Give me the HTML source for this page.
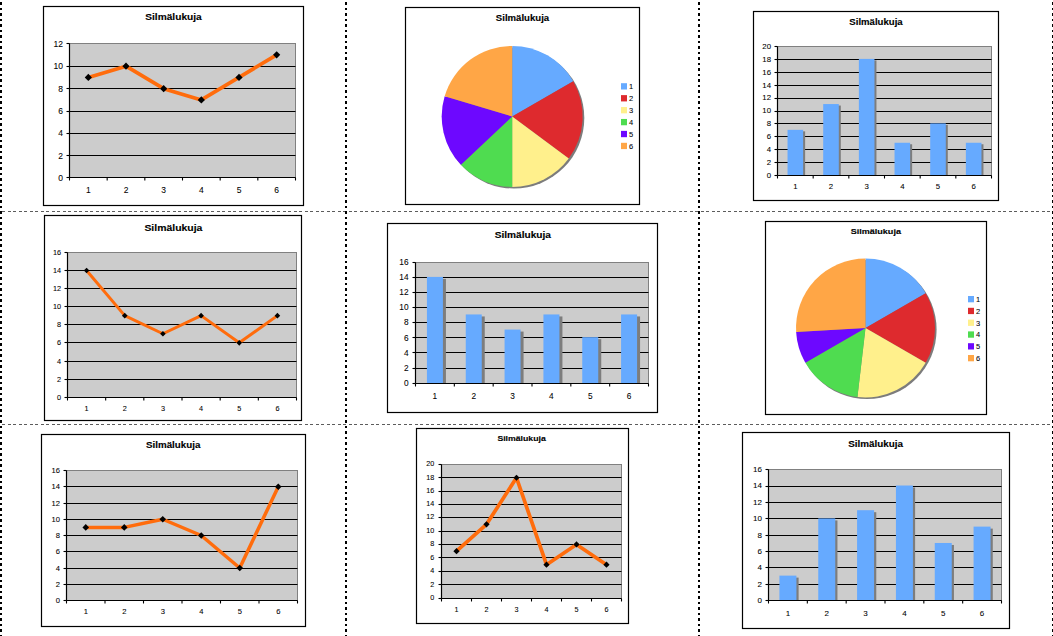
<!DOCTYPE html>
<html><head><meta charset="utf-8"><style>
html,body{margin:0;padding:0;background:#fff;width:1053px;height:636px;overflow:hidden}
svg{display:block;font-family:"Liberation Sans",sans-serif}
</style></head><body>
<svg width="1053" height="636" viewBox="0 0 1053 636">
<defs><filter id="blur" x="-10%" y="-10%" width="120%" height="120%"><feGaussianBlur stdDeviation="0.45"/></filter></defs>
<line x1="0" y1="211.5" x2="1053" y2="211.5" stroke="#5c5c5c" stroke-width="1" stroke-dasharray="3 3 3 2" stroke-dashoffset="9"/>
<line x1="0" y1="424.5" x2="1053" y2="424.5" stroke="#5c5c5c" stroke-width="1" stroke-dasharray="3 3 3 2" stroke-dashoffset="9"/>
<line x1="1" y1="0" x2="1" y2="636" stroke="#000" stroke-width="2" stroke-dasharray="3 3 2 3" stroke-dashoffset="9"/>
<line x1="346" y1="0" x2="346" y2="636" stroke="#000" stroke-width="2" stroke-dasharray="3 3 2 3" stroke-dashoffset="9"/>
<line x1="699" y1="0" x2="699" y2="636" stroke="#000" stroke-width="2" stroke-dasharray="3 3 2 3" stroke-dashoffset="9"/>
<line x1="1053" y1="0" x2="1053" y2="636" stroke="#000" stroke-width="2" stroke-dasharray="3 3 2 3" stroke-dashoffset="9"/>
<rect x="43.5" y="6.5" width="260" height="199" fill="#fff" stroke="#000" stroke-width="1.2"/>
<text stroke="#000" stroke-width="0.12" x="173.5" y="19.98" font-size="9" text-anchor="middle" font-weight="bold" textLength="56.5" lengthAdjust="spacingAndGlyphs" fill="#000">Silmälukuja</text>
<rect x="69.5" y="43.5" width="226.0" height="134.0" fill="#cccccc" stroke="#808080" stroke-width="1"/>
<line x1="69.5" y1="155.50" x2="295.5" y2="155.50" stroke="#000" stroke-width="1.15"/>
<line x1="69.5" y1="133.50" x2="295.5" y2="133.50" stroke="#000" stroke-width="1.15"/>
<line x1="69.5" y1="111.50" x2="295.5" y2="111.50" stroke="#000" stroke-width="1.15"/>
<line x1="69.5" y1="88.50" x2="295.5" y2="88.50" stroke="#000" stroke-width="1.15"/>
<line x1="69.5" y1="66.50" x2="295.5" y2="66.50" stroke="#000" stroke-width="1.15"/>
<line x1="69.5" y1="43.5" x2="69.5" y2="177.5" stroke="#000" stroke-width="1.2"/>
<line x1="69.5" y1="177.5" x2="295.5" y2="177.5" stroke="#000" stroke-width="1.2"/>
<line x1="66.5" y1="177.50" x2="69.5" y2="177.50" stroke="#000" stroke-width="1.1"/>
<text stroke="#000" stroke-width="0.07" x="63.0" y="180.56" font-size="8.5" text-anchor="end" fill="#000">0</text>
<line x1="66.5" y1="155.50" x2="69.5" y2="155.50" stroke="#000" stroke-width="1.1"/>
<text stroke="#000" stroke-width="0.07" x="63.0" y="158.56" font-size="8.5" text-anchor="end" fill="#000">2</text>
<line x1="66.5" y1="133.50" x2="69.5" y2="133.50" stroke="#000" stroke-width="1.1"/>
<text stroke="#000" stroke-width="0.07" x="63.0" y="136.43" font-size="8.5" text-anchor="end" fill="#000">4</text>
<line x1="66.5" y1="111.50" x2="69.5" y2="111.50" stroke="#000" stroke-width="1.1"/>
<text stroke="#000" stroke-width="0.07" x="63.0" y="114.16" font-size="8.5" text-anchor="end" fill="#000">6</text>
<line x1="66.5" y1="88.50" x2="69.5" y2="88.50" stroke="#000" stroke-width="1.1"/>
<text stroke="#000" stroke-width="0.07" x="63.0" y="91.76" font-size="8.5" text-anchor="end" fill="#000">8</text>
<line x1="66.5" y1="66.50" x2="69.5" y2="66.50" stroke="#000" stroke-width="1.1"/>
<text stroke="#000" stroke-width="0.07" x="63.0" y="69.23" font-size="8.5" text-anchor="end" fill="#000">10</text>
<line x1="66.5" y1="43.50" x2="69.5" y2="43.50" stroke="#000" stroke-width="1.1"/>
<text stroke="#000" stroke-width="0.07" x="63.0" y="46.56" font-size="8.5" text-anchor="end" fill="#000">12</text>
<line x1="69.50" y1="177.5" x2="69.50" y2="180.5" stroke="#000" stroke-width="1.1"/>
<line x1="107.17" y1="177.5" x2="107.17" y2="180.5" stroke="#000" stroke-width="1.1"/>
<line x1="144.83" y1="177.5" x2="144.83" y2="180.5" stroke="#000" stroke-width="1.1"/>
<line x1="182.50" y1="177.5" x2="182.50" y2="180.5" stroke="#000" stroke-width="1.1"/>
<line x1="220.17" y1="177.5" x2="220.17" y2="180.5" stroke="#000" stroke-width="1.1"/>
<line x1="257.83" y1="177.5" x2="257.83" y2="180.5" stroke="#000" stroke-width="1.1"/>
<line x1="295.50" y1="177.5" x2="295.50" y2="180.5" stroke="#000" stroke-width="1.1"/>
<text stroke="#000" stroke-width="0.07" x="88.33" y="192.86" font-size="8.5" text-anchor="middle" fill="#000">1</text>
<text stroke="#000" stroke-width="0.07" x="126.0" y="192.86" font-size="8.5" text-anchor="middle" fill="#000">2</text>
<text stroke="#000" stroke-width="0.07" x="163.67" y="192.86" font-size="8.5" text-anchor="middle" fill="#000">3</text>
<text stroke="#000" stroke-width="0.07" x="201.33" y="192.86" font-size="8.5" text-anchor="middle" fill="#000">4</text>
<text stroke="#000" stroke-width="0.07" x="239.0" y="192.86" font-size="8.5" text-anchor="middle" fill="#000">5</text>
<text stroke="#000" stroke-width="0.07" x="276.67" y="192.86" font-size="8.5" text-anchor="middle" fill="#000">6</text>
<polyline points="88.33,77.45 126.00,66.17 163.67,88.70 201.33,99.92 239.00,77.45 276.67,54.85" fill="none" stroke="#ff6c0c" stroke-width="3.7" stroke-linejoin="round"/>
<path d="M88.33 73.85L91.93 77.45L88.33 81.05L84.73 77.45Z" fill="#000"/>
<path d="M126.00 62.57L129.60 66.17L126.00 69.77L122.40 66.17Z" fill="#000"/>
<path d="M163.67 85.10L167.27 88.70L163.67 92.30L160.07 88.70Z" fill="#000"/>
<path d="M201.33 96.32L204.93 99.92L201.33 103.52L197.73 99.92Z" fill="#000"/>
<path d="M239.00 73.85L242.60 77.45L239.00 81.05L235.40 77.45Z" fill="#000"/>
<path d="M276.67 51.25L280.27 54.85L276.67 58.45L273.07 54.85Z" fill="#000"/>
<rect x="405.5" y="7.5" width="234" height="197" fill="#fff" stroke="#000" stroke-width="1.2"/>
<text stroke="#000" stroke-width="0.12" x="522.5" y="21.02" font-size="8.5" text-anchor="middle" font-weight="bold" textLength="53.3" lengthAdjust="spacingAndGlyphs" fill="#000">Silmälukuja</text>
<circle cx="513.8000000000001" cy="118.0" r="70.5" fill="#7c7c7c" filter="url(#blur)"/>
<path d="M512.2 116.4L512.20 45.90A70.5 70.5 0 0 1 573.25 81.15Z" fill="#66aaff"/>
<path d="M512.2 116.4L573.25 81.15A70.5 70.5 0 0 1 568.75 158.50Z" fill="#de2a2e"/>
<path d="M512.2 116.4L568.75 158.50A70.5 70.5 0 0 1 512.20 186.90Z" fill="#fff08c"/>
<path d="M512.2 116.4L512.20 186.90A70.5 70.5 0 0 1 460.92 164.78Z" fill="#4fdc50"/>
<path d="M512.2 116.4L460.92 164.78A70.5 70.5 0 0 1 444.66 96.18Z" fill="#6d08ff"/>
<path d="M512.2 116.4L444.66 96.18A70.5 70.5 0 0 1 512.20 45.90Z" fill="#ffa646"/>
<rect x="621" y="83.20" width="6" height="6.3" fill="#66aaff"/>
<text stroke="#000" stroke-width="0.07" x="629" y="89.1" font-size="7.5" text-anchor="start" fill="#000">1</text>
<rect x="621" y="95.12" width="6" height="6.3" fill="#de2a2e"/>
<text stroke="#000" stroke-width="0.07" x="629" y="101.02" font-size="7.5" text-anchor="start" fill="#000">2</text>
<rect x="621" y="107.04" width="6" height="6.3" fill="#fff08c"/>
<text stroke="#000" stroke-width="0.07" x="629" y="112.94" font-size="7.5" text-anchor="start" fill="#000">3</text>
<rect x="621" y="118.96" width="6" height="6.3" fill="#4fdc50"/>
<text stroke="#000" stroke-width="0.07" x="629" y="124.86" font-size="7.5" text-anchor="start" fill="#000">4</text>
<rect x="621" y="130.88" width="6" height="6.3" fill="#6d08ff"/>
<text stroke="#000" stroke-width="0.07" x="629" y="136.78" font-size="7.5" text-anchor="start" fill="#000">5</text>
<rect x="621" y="142.80" width="6" height="6.3" fill="#ffa646"/>
<text stroke="#000" stroke-width="0.07" x="629" y="148.7" font-size="7.5" text-anchor="start" fill="#000">6</text>
<rect x="753.5" y="11.5" width="245" height="189" fill="#fff" stroke="#000" stroke-width="1.2"/>
<text stroke="#000" stroke-width="0.12" x="876" y="24.9" font-size="8.2" text-anchor="middle" font-weight="bold" textLength="53.3" lengthAdjust="spacingAndGlyphs" fill="#000">Silmälukuja</text>
<rect x="777.5" y="46.5" width="214.0" height="129.0" fill="#cccccc" stroke="#808080" stroke-width="1"/>
<line x1="777.5" y1="162.50" x2="991.5" y2="162.50" stroke="#000" stroke-width="1.15"/>
<line x1="777.5" y1="149.50" x2="991.5" y2="149.50" stroke="#000" stroke-width="1.15"/>
<line x1="777.5" y1="136.50" x2="991.5" y2="136.50" stroke="#000" stroke-width="1.15"/>
<line x1="777.5" y1="123.50" x2="991.5" y2="123.50" stroke="#000" stroke-width="1.15"/>
<line x1="777.5" y1="111.50" x2="991.5" y2="111.50" stroke="#000" stroke-width="1.15"/>
<line x1="777.5" y1="98.50" x2="991.5" y2="98.50" stroke="#000" stroke-width="1.15"/>
<line x1="777.5" y1="85.50" x2="991.5" y2="85.50" stroke="#000" stroke-width="1.15"/>
<line x1="777.5" y1="72.50" x2="991.5" y2="72.50" stroke="#000" stroke-width="1.15"/>
<line x1="777.5" y1="59.50" x2="991.5" y2="59.50" stroke="#000" stroke-width="1.15"/>
<rect x="789.53" y="131.35" width="15.60" height="44.15" fill="#7d7d7d"/>
<rect x="787.53" y="129.85" width="15.60" height="45.65" fill="#66aaff"/>
<rect x="825.20" y="105.55" width="15.60" height="69.95" fill="#7d7d7d"/>
<rect x="823.20" y="104.05" width="15.60" height="71.45" fill="#66aaff"/>
<rect x="860.87" y="60.40" width="15.60" height="115.10" fill="#7d7d7d"/>
<rect x="858.87" y="58.90" width="15.60" height="116.60" fill="#66aaff"/>
<rect x="896.53" y="144.25" width="15.60" height="31.25" fill="#7d7d7d"/>
<rect x="894.53" y="142.75" width="15.60" height="32.75" fill="#66aaff"/>
<rect x="932.20" y="124.90" width="15.60" height="50.60" fill="#7d7d7d"/>
<rect x="930.20" y="123.40" width="15.60" height="52.10" fill="#66aaff"/>
<rect x="967.87" y="144.25" width="15.60" height="31.25" fill="#7d7d7d"/>
<rect x="965.87" y="142.75" width="15.60" height="32.75" fill="#66aaff"/>
<line x1="777.5" y1="46.5" x2="777.5" y2="175.5" stroke="#000" stroke-width="1.2"/>
<line x1="777.5" y1="175.5" x2="991.5" y2="175.5" stroke="#000" stroke-width="1.2"/>
<line x1="774.5" y1="175.50" x2="777.5" y2="175.50" stroke="#000" stroke-width="1.1"/>
<text stroke="#000" stroke-width="0.07" x="771.0" y="177.81" font-size="7.8" text-anchor="end" fill="#000">0</text>
<line x1="774.5" y1="162.50" x2="777.5" y2="162.50" stroke="#000" stroke-width="1.1"/>
<text stroke="#000" stroke-width="0.07" x="771.0" y="164.91" font-size="7.8" text-anchor="end" fill="#000">2</text>
<line x1="774.5" y1="149.50" x2="777.5" y2="149.50" stroke="#000" stroke-width="1.1"/>
<text stroke="#000" stroke-width="0.07" x="771.0" y="152.01" font-size="7.8" text-anchor="end" fill="#000">4</text>
<line x1="774.5" y1="136.50" x2="777.5" y2="136.50" stroke="#000" stroke-width="1.1"/>
<text stroke="#000" stroke-width="0.07" x="771.0" y="139.11" font-size="7.8" text-anchor="end" fill="#000">6</text>
<line x1="774.5" y1="123.50" x2="777.5" y2="123.50" stroke="#000" stroke-width="1.1"/>
<text stroke="#000" stroke-width="0.07" x="771.0" y="126.21" font-size="7.8" text-anchor="end" fill="#000">8</text>
<line x1="774.5" y1="111.50" x2="777.5" y2="111.50" stroke="#000" stroke-width="1.1"/>
<text stroke="#000" stroke-width="0.07" x="771.0" y="113.31" font-size="7.8" text-anchor="end" fill="#000">10</text>
<line x1="774.5" y1="98.50" x2="777.5" y2="98.50" stroke="#000" stroke-width="1.1"/>
<text stroke="#000" stroke-width="0.07" x="771.0" y="100.41" font-size="7.8" text-anchor="end" fill="#000">12</text>
<line x1="774.5" y1="85.50" x2="777.5" y2="85.50" stroke="#000" stroke-width="1.1"/>
<text stroke="#000" stroke-width="0.07" x="771.0" y="87.51" font-size="7.8" text-anchor="end" fill="#000">14</text>
<line x1="774.5" y1="72.50" x2="777.5" y2="72.50" stroke="#000" stroke-width="1.1"/>
<text stroke="#000" stroke-width="0.07" x="771.0" y="74.61" font-size="7.8" text-anchor="end" fill="#000">16</text>
<line x1="774.5" y1="59.50" x2="777.5" y2="59.50" stroke="#000" stroke-width="1.1"/>
<text stroke="#000" stroke-width="0.07" x="771.0" y="61.71" font-size="7.8" text-anchor="end" fill="#000">18</text>
<line x1="774.5" y1="46.50" x2="777.5" y2="46.50" stroke="#000" stroke-width="1.1"/>
<text stroke="#000" stroke-width="0.07" x="771.0" y="48.81" font-size="7.8" text-anchor="end" fill="#000">20</text>
<line x1="777.50" y1="175.5" x2="777.50" y2="178.5" stroke="#000" stroke-width="1.1"/>
<line x1="813.17" y1="175.5" x2="813.17" y2="178.5" stroke="#000" stroke-width="1.1"/>
<line x1="848.83" y1="175.5" x2="848.83" y2="178.5" stroke="#000" stroke-width="1.1"/>
<line x1="884.50" y1="175.5" x2="884.50" y2="178.5" stroke="#000" stroke-width="1.1"/>
<line x1="920.17" y1="175.5" x2="920.17" y2="178.5" stroke="#000" stroke-width="1.1"/>
<line x1="955.83" y1="175.5" x2="955.83" y2="178.5" stroke="#000" stroke-width="1.1"/>
<line x1="991.50" y1="175.5" x2="991.50" y2="178.5" stroke="#000" stroke-width="1.1"/>
<text stroke="#000" stroke-width="0.07" x="795.33" y="189.31" font-size="7.8" text-anchor="middle" fill="#000">1</text>
<text stroke="#000" stroke-width="0.07" x="831.0" y="189.31" font-size="7.8" text-anchor="middle" fill="#000">2</text>
<text stroke="#000" stroke-width="0.07" x="866.67" y="189.31" font-size="7.8" text-anchor="middle" fill="#000">3</text>
<text stroke="#000" stroke-width="0.07" x="902.33" y="189.31" font-size="7.8" text-anchor="middle" fill="#000">4</text>
<text stroke="#000" stroke-width="0.07" x="938.0" y="189.31" font-size="7.8" text-anchor="middle" fill="#000">5</text>
<text stroke="#000" stroke-width="0.07" x="973.67" y="189.31" font-size="7.8" text-anchor="middle" fill="#000">6</text>
<rect x="44.5" y="215.5" width="257" height="205" fill="#fff" stroke="#000" stroke-width="1.2"/>
<text stroke="#000" stroke-width="0.12" x="173.4" y="230.91" font-size="9.6" text-anchor="middle" font-weight="bold" textLength="58" lengthAdjust="spacingAndGlyphs" fill="#000">Silmälukuja</text>
<rect x="67.5" y="252.5" width="229.0" height="145.0" fill="#cccccc" stroke="#808080" stroke-width="1"/>
<line x1="67.5" y1="379.50" x2="296.5" y2="379.50" stroke="#000" stroke-width="1.15"/>
<line x1="67.5" y1="361.50" x2="296.5" y2="361.50" stroke="#000" stroke-width="1.15"/>
<line x1="67.5" y1="342.50" x2="296.5" y2="342.50" stroke="#000" stroke-width="1.15"/>
<line x1="67.5" y1="324.50" x2="296.5" y2="324.50" stroke="#000" stroke-width="1.15"/>
<line x1="67.5" y1="306.50" x2="296.5" y2="306.50" stroke="#000" stroke-width="1.15"/>
<line x1="67.5" y1="288.50" x2="296.5" y2="288.50" stroke="#000" stroke-width="1.15"/>
<line x1="67.5" y1="270.50" x2="296.5" y2="270.50" stroke="#000" stroke-width="1.15"/>
<line x1="67.5" y1="252.5" x2="67.5" y2="397.5" stroke="#000" stroke-width="1.2"/>
<line x1="67.5" y1="397.5" x2="296.5" y2="397.5" stroke="#000" stroke-width="1.2"/>
<line x1="64.5" y1="397.50" x2="67.5" y2="397.50" stroke="#000" stroke-width="1.1"/>
<text stroke="#000" stroke-width="0.07" x="61.0" y="400.13" font-size="7.3" text-anchor="end" fill="#000">0</text>
<line x1="64.5" y1="379.50" x2="67.5" y2="379.50" stroke="#000" stroke-width="1.1"/>
<text stroke="#000" stroke-width="0.07" x="61.0" y="381.87" font-size="7.3" text-anchor="end" fill="#000">2</text>
<line x1="64.5" y1="361.50" x2="67.5" y2="361.50" stroke="#000" stroke-width="1.1"/>
<text stroke="#000" stroke-width="0.07" x="61.0" y="363.65" font-size="7.3" text-anchor="end" fill="#000">4</text>
<line x1="64.5" y1="342.50" x2="67.5" y2="342.50" stroke="#000" stroke-width="1.1"/>
<text stroke="#000" stroke-width="0.07" x="61.0" y="345.47" font-size="7.3" text-anchor="end" fill="#000">6</text>
<line x1="64.5" y1="324.50" x2="67.5" y2="324.50" stroke="#000" stroke-width="1.1"/>
<text stroke="#000" stroke-width="0.07" x="61.0" y="327.33" font-size="7.3" text-anchor="end" fill="#000">8</text>
<line x1="64.5" y1="306.50" x2="67.5" y2="306.50" stroke="#000" stroke-width="1.1"/>
<text stroke="#000" stroke-width="0.07" x="61.0" y="309.22" font-size="7.3" text-anchor="end" fill="#000">10</text>
<line x1="64.5" y1="288.50" x2="67.5" y2="288.50" stroke="#000" stroke-width="1.1"/>
<text stroke="#000" stroke-width="0.07" x="61.0" y="291.15" font-size="7.3" text-anchor="end" fill="#000">12</text>
<line x1="64.5" y1="270.50" x2="67.5" y2="270.50" stroke="#000" stroke-width="1.1"/>
<text stroke="#000" stroke-width="0.07" x="61.0" y="273.12" font-size="7.3" text-anchor="end" fill="#000">14</text>
<line x1="64.5" y1="252.50" x2="67.5" y2="252.50" stroke="#000" stroke-width="1.1"/>
<text stroke="#000" stroke-width="0.07" x="61.0" y="255.13" font-size="7.3" text-anchor="end" fill="#000">16</text>
<line x1="67.50" y1="397.5" x2="67.50" y2="400.5" stroke="#000" stroke-width="1.1"/>
<line x1="105.67" y1="397.5" x2="105.67" y2="400.5" stroke="#000" stroke-width="1.1"/>
<line x1="143.83" y1="397.5" x2="143.83" y2="400.5" stroke="#000" stroke-width="1.1"/>
<line x1="182.00" y1="397.5" x2="182.00" y2="400.5" stroke="#000" stroke-width="1.1"/>
<line x1="220.17" y1="397.5" x2="220.17" y2="400.5" stroke="#000" stroke-width="1.1"/>
<line x1="258.33" y1="397.5" x2="258.33" y2="400.5" stroke="#000" stroke-width="1.1"/>
<line x1="296.50" y1="397.5" x2="296.50" y2="400.5" stroke="#000" stroke-width="1.1"/>
<text stroke="#000" stroke-width="0.07" x="86.58" y="411.13" font-size="7.3" text-anchor="middle" fill="#000">1</text>
<text stroke="#000" stroke-width="0.07" x="124.75" y="411.13" font-size="7.3" text-anchor="middle" fill="#000">2</text>
<text stroke="#000" stroke-width="0.07" x="162.92" y="411.13" font-size="7.3" text-anchor="middle" fill="#000">3</text>
<text stroke="#000" stroke-width="0.07" x="201.08" y="411.13" font-size="7.3" text-anchor="middle" fill="#000">4</text>
<text stroke="#000" stroke-width="0.07" x="239.25" y="411.13" font-size="7.3" text-anchor="middle" fill="#000">5</text>
<text stroke="#000" stroke-width="0.07" x="277.42" y="411.13" font-size="7.3" text-anchor="middle" fill="#000">6</text>
<polyline points="86.58,270.49 124.75,315.64 162.92,333.77 201.08,315.64 239.25,342.84 277.42,315.64" fill="none" stroke="#ff6c0c" stroke-width="3.0" stroke-linejoin="round"/>
<path d="M86.58 267.69L89.38 270.49L86.58 273.29L83.78 270.49Z" fill="#000"/>
<path d="M124.75 312.84L127.55 315.64L124.75 318.44L121.95 315.64Z" fill="#000"/>
<path d="M162.92 330.97L165.72 333.77L162.92 336.57L160.12 333.77Z" fill="#000"/>
<path d="M201.08 312.84L203.88 315.64L201.08 318.44L198.28 315.64Z" fill="#000"/>
<path d="M239.25 340.04L242.05 342.84L239.25 345.64L236.45 342.84Z" fill="#000"/>
<path d="M277.42 312.84L280.22 315.64L277.42 318.44L274.62 315.64Z" fill="#000"/>
<rect x="387.5" y="223.5" width="270" height="189" fill="#fff" stroke="#000" stroke-width="1.2"/>
<text stroke="#000" stroke-width="0.12" x="522.8" y="237.92" font-size="8.5" text-anchor="middle" font-weight="bold" textLength="56.3" lengthAdjust="spacingAndGlyphs" fill="#000">Silmälukuja</text>
<rect x="415.5" y="262.5" width="233.0" height="121.0" fill="#cccccc" stroke="#808080" stroke-width="1"/>
<line x1="415.5" y1="368.50" x2="648.5" y2="368.50" stroke="#000" stroke-width="1.15"/>
<line x1="415.5" y1="352.50" x2="648.5" y2="352.50" stroke="#000" stroke-width="1.15"/>
<line x1="415.5" y1="337.50" x2="648.5" y2="337.50" stroke="#000" stroke-width="1.15"/>
<line x1="415.5" y1="322.50" x2="648.5" y2="322.50" stroke="#000" stroke-width="1.15"/>
<line x1="415.5" y1="307.50" x2="648.5" y2="307.50" stroke="#000" stroke-width="1.15"/>
<line x1="415.5" y1="292.50" x2="648.5" y2="292.50" stroke="#000" stroke-width="1.15"/>
<line x1="415.5" y1="277.50" x2="648.5" y2="277.50" stroke="#000" stroke-width="1.15"/>
<rect x="429.92" y="278.91" width="16.00" height="104.59" fill="#7d7d7d"/>
<rect x="426.92" y="276.91" width="16.00" height="106.59" fill="#66aaff"/>
<rect x="468.75" y="316.45" width="16.00" height="67.05" fill="#7d7d7d"/>
<rect x="465.75" y="314.45" width="16.00" height="69.05" fill="#66aaff"/>
<rect x="507.58" y="331.57" width="16.00" height="51.93" fill="#7d7d7d"/>
<rect x="504.58" y="329.57" width="16.00" height="53.93" fill="#66aaff"/>
<rect x="546.42" y="316.45" width="16.00" height="67.05" fill="#7d7d7d"/>
<rect x="543.42" y="314.45" width="16.00" height="69.05" fill="#66aaff"/>
<rect x="585.25" y="339.16" width="16.00" height="44.34" fill="#7d7d7d"/>
<rect x="582.25" y="337.16" width="16.00" height="46.34" fill="#66aaff"/>
<rect x="624.08" y="316.45" width="16.00" height="67.05" fill="#7d7d7d"/>
<rect x="621.08" y="314.45" width="16.00" height="69.05" fill="#66aaff"/>
<line x1="415.5" y1="262.5" x2="415.5" y2="383.5" stroke="#000" stroke-width="1.2"/>
<line x1="415.5" y1="383.5" x2="648.5" y2="383.5" stroke="#000" stroke-width="1.2"/>
<line x1="412.5" y1="383.50" x2="415.5" y2="383.50" stroke="#000" stroke-width="1.1"/>
<text stroke="#000" stroke-width="0.07" x="408.5" y="386.49" font-size="8.3" text-anchor="end" fill="#000">0</text>
<line x1="412.5" y1="368.50" x2="415.5" y2="368.50" stroke="#000" stroke-width="1.1"/>
<text stroke="#000" stroke-width="0.07" x="408.5" y="371.14" font-size="8.3" text-anchor="end" fill="#000">2</text>
<line x1="412.5" y1="352.50" x2="415.5" y2="352.50" stroke="#000" stroke-width="1.1"/>
<text stroke="#000" stroke-width="0.07" x="408.5" y="355.86" font-size="8.3" text-anchor="end" fill="#000">4</text>
<line x1="412.5" y1="337.50" x2="415.5" y2="337.50" stroke="#000" stroke-width="1.1"/>
<text stroke="#000" stroke-width="0.07" x="408.5" y="340.64" font-size="8.3" text-anchor="end" fill="#000">6</text>
<line x1="412.5" y1="322.50" x2="415.5" y2="322.50" stroke="#000" stroke-width="1.1"/>
<text stroke="#000" stroke-width="0.07" x="408.5" y="325.49" font-size="8.3" text-anchor="end" fill="#000">8</text>
<line x1="412.5" y1="307.50" x2="415.5" y2="307.50" stroke="#000" stroke-width="1.1"/>
<text stroke="#000" stroke-width="0.07" x="408.5" y="310.39" font-size="8.3" text-anchor="end" fill="#000">10</text>
<line x1="412.5" y1="292.50" x2="415.5" y2="292.50" stroke="#000" stroke-width="1.1"/>
<text stroke="#000" stroke-width="0.07" x="408.5" y="295.36" font-size="8.3" text-anchor="end" fill="#000">12</text>
<line x1="412.5" y1="277.50" x2="415.5" y2="277.50" stroke="#000" stroke-width="1.1"/>
<text stroke="#000" stroke-width="0.07" x="408.5" y="280.39" font-size="8.3" text-anchor="end" fill="#000">14</text>
<line x1="412.5" y1="262.50" x2="415.5" y2="262.50" stroke="#000" stroke-width="1.1"/>
<text stroke="#000" stroke-width="0.07" x="408.5" y="265.49" font-size="8.3" text-anchor="end" fill="#000">16</text>
<line x1="415.50" y1="383.5" x2="415.50" y2="386.5" stroke="#000" stroke-width="1.1"/>
<line x1="454.33" y1="383.5" x2="454.33" y2="386.5" stroke="#000" stroke-width="1.1"/>
<line x1="493.17" y1="383.5" x2="493.17" y2="386.5" stroke="#000" stroke-width="1.1"/>
<line x1="532.00" y1="383.5" x2="532.00" y2="386.5" stroke="#000" stroke-width="1.1"/>
<line x1="570.83" y1="383.5" x2="570.83" y2="386.5" stroke="#000" stroke-width="1.1"/>
<line x1="609.67" y1="383.5" x2="609.67" y2="386.5" stroke="#000" stroke-width="1.1"/>
<line x1="648.50" y1="383.5" x2="648.50" y2="386.5" stroke="#000" stroke-width="1.1"/>
<text stroke="#000" stroke-width="0.07" x="434.92" y="399.19" font-size="8.3" text-anchor="middle" fill="#000">1</text>
<text stroke="#000" stroke-width="0.07" x="473.75" y="399.19" font-size="8.3" text-anchor="middle" fill="#000">2</text>
<text stroke="#000" stroke-width="0.07" x="512.58" y="399.19" font-size="8.3" text-anchor="middle" fill="#000">3</text>
<text stroke="#000" stroke-width="0.07" x="551.42" y="399.19" font-size="8.3" text-anchor="middle" fill="#000">4</text>
<text stroke="#000" stroke-width="0.07" x="590.25" y="399.19" font-size="8.3" text-anchor="middle" fill="#000">5</text>
<text stroke="#000" stroke-width="0.07" x="629.08" y="399.19" font-size="8.3" text-anchor="middle" fill="#000">6</text>
<rect x="765.5" y="221.5" width="221" height="193" fill="#fff" stroke="#000" stroke-width="1.2"/>
<text stroke="#000" stroke-width="0.12" x="875.8" y="233.9" font-size="7.5" text-anchor="middle" font-weight="bold" textLength="50.3" lengthAdjust="spacingAndGlyphs" fill="#000">Silmälukuja</text>
<circle cx="867.1" cy="329.6" r="69.5" fill="#7c7c7c" filter="url(#blur)"/>
<path d="M865.5 328L865.50 258.50A69.5 69.5 0 0 1 925.69 293.25Z" fill="#66aaff"/>
<path d="M865.5 328L925.69 293.25A69.5 69.5 0 0 1 925.69 362.75Z" fill="#de2a2e"/>
<path d="M865.5 328L925.69 362.75A69.5 69.5 0 0 1 857.43 397.03Z" fill="#fff08c"/>
<path d="M865.5 328L857.43 397.03A69.5 69.5 0 0 1 805.31 362.75Z" fill="#4fdc50"/>
<path d="M865.5 328L805.31 362.75A69.5 69.5 0 0 1 796.12 332.04Z" fill="#6d08ff"/>
<path d="M865.5 328L796.12 332.04A69.5 69.5 0 0 1 865.50 258.50Z" fill="#ffa646"/>
<rect x="968" y="296.00" width="6" height="6.3" fill="#66aaff"/>
<text stroke="#000" stroke-width="0.07" x="976" y="301.9" font-size="7.5" text-anchor="start" fill="#000">1</text>
<rect x="968" y="307.80" width="6" height="6.3" fill="#de2a2e"/>
<text stroke="#000" stroke-width="0.07" x="976" y="313.7" font-size="7.5" text-anchor="start" fill="#000">2</text>
<rect x="968" y="319.60" width="6" height="6.3" fill="#fff08c"/>
<text stroke="#000" stroke-width="0.07" x="976" y="325.5" font-size="7.5" text-anchor="start" fill="#000">3</text>
<rect x="968" y="331.40" width="6" height="6.3" fill="#4fdc50"/>
<text stroke="#000" stroke-width="0.07" x="976" y="337.3" font-size="7.5" text-anchor="start" fill="#000">4</text>
<rect x="968" y="343.20" width="6" height="6.3" fill="#6d08ff"/>
<text stroke="#000" stroke-width="0.07" x="976" y="349.1" font-size="7.5" text-anchor="start" fill="#000">5</text>
<rect x="968" y="355.00" width="6" height="6.3" fill="#ffa646"/>
<text stroke="#000" stroke-width="0.07" x="976" y="360.9" font-size="7.5" text-anchor="start" fill="#000">6</text>
<rect x="41.5" y="434.5" width="264" height="192" fill="#fff" stroke="#000" stroke-width="1.2"/>
<text stroke="#000" stroke-width="0.12" x="173.2" y="448.02" font-size="8.5" text-anchor="middle" font-weight="bold" textLength="54.4" lengthAdjust="spacingAndGlyphs" fill="#000">Silmälukuja</text>
<rect x="66.5" y="470.5" width="231.0" height="130.0" fill="#cccccc" stroke="#808080" stroke-width="1"/>
<line x1="66.5" y1="584.50" x2="297.5" y2="584.50" stroke="#000" stroke-width="1.15"/>
<line x1="66.5" y1="568.50" x2="297.5" y2="568.50" stroke="#000" stroke-width="1.15"/>
<line x1="66.5" y1="551.50" x2="297.5" y2="551.50" stroke="#000" stroke-width="1.15"/>
<line x1="66.5" y1="535.50" x2="297.5" y2="535.50" stroke="#000" stroke-width="1.15"/>
<line x1="66.5" y1="519.50" x2="297.5" y2="519.50" stroke="#000" stroke-width="1.15"/>
<line x1="66.5" y1="503.50" x2="297.5" y2="503.50" stroke="#000" stroke-width="1.15"/>
<line x1="66.5" y1="486.50" x2="297.5" y2="486.50" stroke="#000" stroke-width="1.15"/>
<line x1="66.5" y1="470.5" x2="66.5" y2="600.5" stroke="#000" stroke-width="1.2"/>
<line x1="66.5" y1="600.5" x2="297.5" y2="600.5" stroke="#000" stroke-width="1.2"/>
<line x1="63.5" y1="600.50" x2="66.5" y2="600.50" stroke="#000" stroke-width="1.1"/>
<text stroke="#000" stroke-width="0.07" x="60.0" y="603.24" font-size="7.6" text-anchor="end" fill="#000">0</text>
<line x1="63.5" y1="584.50" x2="66.5" y2="584.50" stroke="#000" stroke-width="1.1"/>
<text stroke="#000" stroke-width="0.07" x="60.0" y="586.99" font-size="7.6" text-anchor="end" fill="#000">2</text>
<line x1="63.5" y1="568.50" x2="66.5" y2="568.50" stroke="#000" stroke-width="1.1"/>
<text stroke="#000" stroke-width="0.07" x="60.0" y="570.74" font-size="7.6" text-anchor="end" fill="#000">4</text>
<line x1="63.5" y1="551.50" x2="66.5" y2="551.50" stroke="#000" stroke-width="1.1"/>
<text stroke="#000" stroke-width="0.07" x="60.0" y="554.49" font-size="7.6" text-anchor="end" fill="#000">6</text>
<line x1="63.5" y1="535.50" x2="66.5" y2="535.50" stroke="#000" stroke-width="1.1"/>
<text stroke="#000" stroke-width="0.07" x="60.0" y="538.24" font-size="7.6" text-anchor="end" fill="#000">8</text>
<line x1="63.5" y1="519.50" x2="66.5" y2="519.50" stroke="#000" stroke-width="1.1"/>
<text stroke="#000" stroke-width="0.07" x="60.0" y="521.99" font-size="7.6" text-anchor="end" fill="#000">10</text>
<line x1="63.5" y1="503.50" x2="66.5" y2="503.50" stroke="#000" stroke-width="1.1"/>
<text stroke="#000" stroke-width="0.07" x="60.0" y="505.74" font-size="7.6" text-anchor="end" fill="#000">12</text>
<line x1="63.5" y1="486.50" x2="66.5" y2="486.50" stroke="#000" stroke-width="1.1"/>
<text stroke="#000" stroke-width="0.07" x="60.0" y="489.49" font-size="7.6" text-anchor="end" fill="#000">14</text>
<line x1="63.5" y1="470.50" x2="66.5" y2="470.50" stroke="#000" stroke-width="1.1"/>
<text stroke="#000" stroke-width="0.07" x="60.0" y="473.24" font-size="7.6" text-anchor="end" fill="#000">16</text>
<line x1="66.50" y1="600.5" x2="66.50" y2="603.5" stroke="#000" stroke-width="1.1"/>
<line x1="105.00" y1="600.5" x2="105.00" y2="603.5" stroke="#000" stroke-width="1.1"/>
<line x1="143.50" y1="600.5" x2="143.50" y2="603.5" stroke="#000" stroke-width="1.1"/>
<line x1="182.00" y1="600.5" x2="182.00" y2="603.5" stroke="#000" stroke-width="1.1"/>
<line x1="220.50" y1="600.5" x2="220.50" y2="603.5" stroke="#000" stroke-width="1.1"/>
<line x1="259.00" y1="600.5" x2="259.00" y2="603.5" stroke="#000" stroke-width="1.1"/>
<line x1="297.50" y1="600.5" x2="297.50" y2="603.5" stroke="#000" stroke-width="1.1"/>
<text stroke="#000" stroke-width="0.07" x="85.75" y="614.24" font-size="7.6" text-anchor="middle" fill="#000">1</text>
<text stroke="#000" stroke-width="0.07" x="124.25" y="614.24" font-size="7.6" text-anchor="middle" fill="#000">2</text>
<text stroke="#000" stroke-width="0.07" x="162.75" y="614.24" font-size="7.6" text-anchor="middle" fill="#000">3</text>
<text stroke="#000" stroke-width="0.07" x="201.25" y="614.24" font-size="7.6" text-anchor="middle" fill="#000">4</text>
<text stroke="#000" stroke-width="0.07" x="239.75" y="614.24" font-size="7.6" text-anchor="middle" fill="#000">5</text>
<text stroke="#000" stroke-width="0.07" x="278.25" y="614.24" font-size="7.6" text-anchor="middle" fill="#000">6</text>
<polyline points="85.75,527.38 124.25,527.38 162.75,519.25 201.25,535.50 239.75,568.00 278.25,486.75" fill="none" stroke="#ff6c0c" stroke-width="3.5" stroke-linejoin="round"/>
<path d="M85.75 524.08L89.05 527.38L85.75 530.67L82.45 527.38Z" fill="#000"/>
<path d="M124.25 524.08L127.55 527.38L124.25 530.67L120.95 527.38Z" fill="#000"/>
<path d="M162.75 515.95L166.05 519.25L162.75 522.55L159.45 519.25Z" fill="#000"/>
<path d="M201.25 532.20L204.55 535.50L201.25 538.80L197.95 535.50Z" fill="#000"/>
<path d="M239.75 564.70L243.05 568.00L239.75 571.30L236.45 568.00Z" fill="#000"/>
<path d="M278.25 483.45L281.55 486.75L278.25 490.05L274.95 486.75Z" fill="#000"/>
<rect x="416.5" y="428.5" width="212" height="195" fill="#fff" stroke="#000" stroke-width="1.2"/>
<text stroke="#000" stroke-width="0.12" x="521.6" y="440.86" font-size="7.3" text-anchor="middle" font-weight="bold" textLength="48.4" lengthAdjust="spacingAndGlyphs" fill="#000">Silmälukuja</text>
<rect x="441.5" y="464.5" width="180.0" height="134.0" fill="#cccccc" stroke="#808080" stroke-width="1"/>
<line x1="441.5" y1="584.50" x2="621.5" y2="584.50" stroke="#000" stroke-width="1.15"/>
<line x1="441.5" y1="571.50" x2="621.5" y2="571.50" stroke="#000" stroke-width="1.15"/>
<line x1="441.5" y1="557.50" x2="621.5" y2="557.50" stroke="#000" stroke-width="1.15"/>
<line x1="441.5" y1="544.50" x2="621.5" y2="544.50" stroke="#000" stroke-width="1.15"/>
<line x1="441.5" y1="531.50" x2="621.5" y2="531.50" stroke="#000" stroke-width="1.15"/>
<line x1="441.5" y1="517.50" x2="621.5" y2="517.50" stroke="#000" stroke-width="1.15"/>
<line x1="441.5" y1="504.50" x2="621.5" y2="504.50" stroke="#000" stroke-width="1.15"/>
<line x1="441.5" y1="491.50" x2="621.5" y2="491.50" stroke="#000" stroke-width="1.15"/>
<line x1="441.5" y1="477.50" x2="621.5" y2="477.50" stroke="#000" stroke-width="1.15"/>
<line x1="441.5" y1="464.5" x2="441.5" y2="598.5" stroke="#000" stroke-width="1.2"/>
<line x1="441.5" y1="598.5" x2="621.5" y2="598.5" stroke="#000" stroke-width="1.2"/>
<line x1="438.5" y1="598.50" x2="441.5" y2="598.50" stroke="#000" stroke-width="1.1"/>
<text stroke="#000" stroke-width="0.07" x="434.2" y="600.29" font-size="7.2" text-anchor="end" fill="#000">0</text>
<line x1="438.5" y1="584.50" x2="441.5" y2="584.50" stroke="#000" stroke-width="1.1"/>
<text stroke="#000" stroke-width="0.07" x="434.2" y="586.73" font-size="7.2" text-anchor="end" fill="#000">2</text>
<line x1="438.5" y1="571.50" x2="441.5" y2="571.50" stroke="#000" stroke-width="1.1"/>
<text stroke="#000" stroke-width="0.07" x="434.2" y="573.2" font-size="7.2" text-anchor="end" fill="#000">4</text>
<line x1="438.5" y1="557.50" x2="441.5" y2="557.50" stroke="#000" stroke-width="1.1"/>
<text stroke="#000" stroke-width="0.07" x="434.2" y="559.71" font-size="7.2" text-anchor="end" fill="#000">6</text>
<line x1="438.5" y1="544.50" x2="441.5" y2="544.50" stroke="#000" stroke-width="1.1"/>
<text stroke="#000" stroke-width="0.07" x="434.2" y="546.26" font-size="7.2" text-anchor="end" fill="#000">8</text>
<line x1="438.5" y1="531.50" x2="441.5" y2="531.50" stroke="#000" stroke-width="1.1"/>
<text stroke="#000" stroke-width="0.07" x="434.2" y="532.84" font-size="7.2" text-anchor="end" fill="#000">10</text>
<line x1="438.5" y1="517.50" x2="441.5" y2="517.50" stroke="#000" stroke-width="1.1"/>
<text stroke="#000" stroke-width="0.07" x="434.2" y="519.46" font-size="7.2" text-anchor="end" fill="#000">12</text>
<line x1="438.5" y1="504.50" x2="441.5" y2="504.50" stroke="#000" stroke-width="1.1"/>
<text stroke="#000" stroke-width="0.07" x="434.2" y="506.11" font-size="7.2" text-anchor="end" fill="#000">14</text>
<line x1="438.5" y1="491.50" x2="441.5" y2="491.50" stroke="#000" stroke-width="1.1"/>
<text stroke="#000" stroke-width="0.07" x="434.2" y="492.8" font-size="7.2" text-anchor="end" fill="#000">16</text>
<line x1="438.5" y1="477.50" x2="441.5" y2="477.50" stroke="#000" stroke-width="1.1"/>
<text stroke="#000" stroke-width="0.07" x="434.2" y="479.53" font-size="7.2" text-anchor="end" fill="#000">18</text>
<line x1="438.5" y1="464.50" x2="441.5" y2="464.50" stroke="#000" stroke-width="1.1"/>
<text stroke="#000" stroke-width="0.07" x="434.2" y="466.29" font-size="7.2" text-anchor="end" fill="#000">20</text>
<line x1="441.50" y1="598.5" x2="441.50" y2="601.5" stroke="#000" stroke-width="1.1"/>
<line x1="471.50" y1="598.5" x2="471.50" y2="601.5" stroke="#000" stroke-width="1.1"/>
<line x1="501.50" y1="598.5" x2="501.50" y2="601.5" stroke="#000" stroke-width="1.1"/>
<line x1="531.50" y1="598.5" x2="531.50" y2="601.5" stroke="#000" stroke-width="1.1"/>
<line x1="561.50" y1="598.5" x2="561.50" y2="601.5" stroke="#000" stroke-width="1.1"/>
<line x1="591.50" y1="598.5" x2="591.50" y2="601.5" stroke="#000" stroke-width="1.1"/>
<line x1="621.50" y1="598.5" x2="621.50" y2="601.5" stroke="#000" stroke-width="1.1"/>
<text stroke="#000" stroke-width="0.07" x="456.5" y="612.09" font-size="7.2" text-anchor="middle" fill="#000">1</text>
<text stroke="#000" stroke-width="0.07" x="486.5" y="612.09" font-size="7.2" text-anchor="middle" fill="#000">2</text>
<text stroke="#000" stroke-width="0.07" x="516.5" y="612.09" font-size="7.2" text-anchor="middle" fill="#000">3</text>
<text stroke="#000" stroke-width="0.07" x="546.5" y="612.09" font-size="7.2" text-anchor="middle" fill="#000">4</text>
<text stroke="#000" stroke-width="0.07" x="576.5" y="612.09" font-size="7.2" text-anchor="middle" fill="#000">5</text>
<text stroke="#000" stroke-width="0.07" x="606.5" y="612.09" font-size="7.2" text-anchor="middle" fill="#000">6</text>
<polyline points="456.50,551.19 486.50,524.35 516.50,477.74 546.50,564.66 576.50,544.47 606.50,564.66" fill="none" stroke="#ff6c0c" stroke-width="3.7" stroke-linejoin="round"/>
<path d="M456.50 548.09L459.60 551.19L456.50 554.29L453.40 551.19Z" fill="#000"/>
<path d="M486.50 521.25L489.60 524.35L486.50 527.45L483.40 524.35Z" fill="#000"/>
<path d="M516.50 474.64L519.60 477.74L516.50 480.84L513.40 477.74Z" fill="#000"/>
<path d="M546.50 561.56L549.60 564.66L546.50 567.76L543.40 564.66Z" fill="#000"/>
<path d="M576.50 541.37L579.60 544.47L576.50 547.57L573.40 544.47Z" fill="#000"/>
<path d="M606.50 561.56L609.60 564.66L606.50 567.76L603.40 564.66Z" fill="#000"/>
<rect x="742.5" y="432.5" width="267" height="196" fill="#fff" stroke="#000" stroke-width="1.2"/>
<text stroke="#000" stroke-width="0.12" x="875.6" y="446.52" font-size="8.5" text-anchor="middle" font-weight="bold" textLength="54.8" lengthAdjust="spacingAndGlyphs" fill="#000">Silmälukuja</text>
<rect x="768.5" y="469.5" width="233.0" height="131.0" fill="#cccccc" stroke="#808080" stroke-width="1"/>
<line x1="768.5" y1="584.50" x2="1001.5" y2="584.50" stroke="#000" stroke-width="1.15"/>
<line x1="768.5" y1="567.50" x2="1001.5" y2="567.50" stroke="#000" stroke-width="1.15"/>
<line x1="768.5" y1="551.50" x2="1001.5" y2="551.50" stroke="#000" stroke-width="1.15"/>
<line x1="768.5" y1="535.50" x2="1001.5" y2="535.50" stroke="#000" stroke-width="1.15"/>
<line x1="768.5" y1="518.50" x2="1001.5" y2="518.50" stroke="#000" stroke-width="1.15"/>
<line x1="768.5" y1="502.50" x2="1001.5" y2="502.50" stroke="#000" stroke-width="1.15"/>
<line x1="768.5" y1="486.50" x2="1001.5" y2="486.50" stroke="#000" stroke-width="1.15"/>
<rect x="781.62" y="577.62" width="17.00" height="22.88" fill="#7d7d7d"/>
<rect x="779.42" y="575.62" width="17.00" height="24.88" fill="#66aaff"/>
<rect x="820.45" y="520.41" width="17.00" height="80.09" fill="#7d7d7d"/>
<rect x="818.25" y="518.41" width="17.00" height="82.09" fill="#66aaff"/>
<rect x="859.28" y="512.20" width="17.00" height="88.30" fill="#7d7d7d"/>
<rect x="857.08" y="510.20" width="17.00" height="90.30" fill="#66aaff"/>
<rect x="898.12" y="487.51" width="17.00" height="112.99" fill="#7d7d7d"/>
<rect x="895.92" y="485.51" width="17.00" height="114.99" fill="#66aaff"/>
<rect x="936.95" y="544.98" width="17.00" height="55.52" fill="#7d7d7d"/>
<rect x="934.75" y="542.98" width="17.00" height="57.52" fill="#66aaff"/>
<rect x="975.78" y="528.61" width="17.00" height="71.89" fill="#7d7d7d"/>
<rect x="973.58" y="526.61" width="17.00" height="73.89" fill="#66aaff"/>
<line x1="768.5" y1="469.5" x2="768.5" y2="600.5" stroke="#000" stroke-width="1.2"/>
<line x1="768.5" y1="600.5" x2="1001.5" y2="600.5" stroke="#000" stroke-width="1.2"/>
<line x1="765.5" y1="600.50" x2="768.5" y2="600.50" stroke="#000" stroke-width="1.1"/>
<text stroke="#000" stroke-width="0.07" x="762.0" y="602.98" font-size="8" text-anchor="end" fill="#000">0</text>
<line x1="765.5" y1="584.50" x2="768.5" y2="584.50" stroke="#000" stroke-width="1.1"/>
<text stroke="#000" stroke-width="0.07" x="762.0" y="586.74" font-size="8" text-anchor="end" fill="#000">2</text>
<line x1="765.5" y1="567.50" x2="768.5" y2="567.50" stroke="#000" stroke-width="1.1"/>
<text stroke="#000" stroke-width="0.07" x="762.0" y="570.46" font-size="8" text-anchor="end" fill="#000">4</text>
<line x1="765.5" y1="551.50" x2="768.5" y2="551.50" stroke="#000" stroke-width="1.1"/>
<text stroke="#000" stroke-width="0.07" x="762.0" y="554.14" font-size="8" text-anchor="end" fill="#000">6</text>
<line x1="765.5" y1="535.50" x2="768.5" y2="535.50" stroke="#000" stroke-width="1.1"/>
<text stroke="#000" stroke-width="0.07" x="762.0" y="537.78" font-size="8" text-anchor="end" fill="#000">8</text>
<line x1="765.5" y1="518.50" x2="768.5" y2="518.50" stroke="#000" stroke-width="1.1"/>
<text stroke="#000" stroke-width="0.07" x="762.0" y="521.39" font-size="8" text-anchor="end" fill="#000">10</text>
<line x1="765.5" y1="502.50" x2="768.5" y2="502.50" stroke="#000" stroke-width="1.1"/>
<text stroke="#000" stroke-width="0.07" x="762.0" y="504.96" font-size="8" text-anchor="end" fill="#000">12</text>
<line x1="765.5" y1="486.50" x2="768.5" y2="486.50" stroke="#000" stroke-width="1.1"/>
<text stroke="#000" stroke-width="0.07" x="762.0" y="488.49" font-size="8" text-anchor="end" fill="#000">14</text>
<line x1="765.5" y1="469.50" x2="768.5" y2="469.50" stroke="#000" stroke-width="1.1"/>
<text stroke="#000" stroke-width="0.07" x="762.0" y="471.98" font-size="8" text-anchor="end" fill="#000">16</text>
<line x1="768.50" y1="600.5" x2="768.50" y2="603.5" stroke="#000" stroke-width="1.1"/>
<line x1="807.33" y1="600.5" x2="807.33" y2="603.5" stroke="#000" stroke-width="1.1"/>
<line x1="846.17" y1="600.5" x2="846.17" y2="603.5" stroke="#000" stroke-width="1.1"/>
<line x1="885.00" y1="600.5" x2="885.00" y2="603.5" stroke="#000" stroke-width="1.1"/>
<line x1="923.83" y1="600.5" x2="923.83" y2="603.5" stroke="#000" stroke-width="1.1"/>
<line x1="962.67" y1="600.5" x2="962.67" y2="603.5" stroke="#000" stroke-width="1.1"/>
<line x1="1001.50" y1="600.5" x2="1001.50" y2="603.5" stroke="#000" stroke-width="1.1"/>
<text stroke="#000" stroke-width="0.07" x="787.92" y="615.98" font-size="8" text-anchor="middle" fill="#000">1</text>
<text stroke="#000" stroke-width="0.07" x="826.75" y="615.98" font-size="8" text-anchor="middle" fill="#000">2</text>
<text stroke="#000" stroke-width="0.07" x="865.58" y="615.98" font-size="8" text-anchor="middle" fill="#000">3</text>
<text stroke="#000" stroke-width="0.07" x="904.42" y="615.98" font-size="8" text-anchor="middle" fill="#000">4</text>
<text stroke="#000" stroke-width="0.07" x="943.25" y="615.98" font-size="8" text-anchor="middle" fill="#000">5</text>
<text stroke="#000" stroke-width="0.07" x="982.08" y="615.98" font-size="8" text-anchor="middle" fill="#000">6</text>
</svg>
</body></html>
